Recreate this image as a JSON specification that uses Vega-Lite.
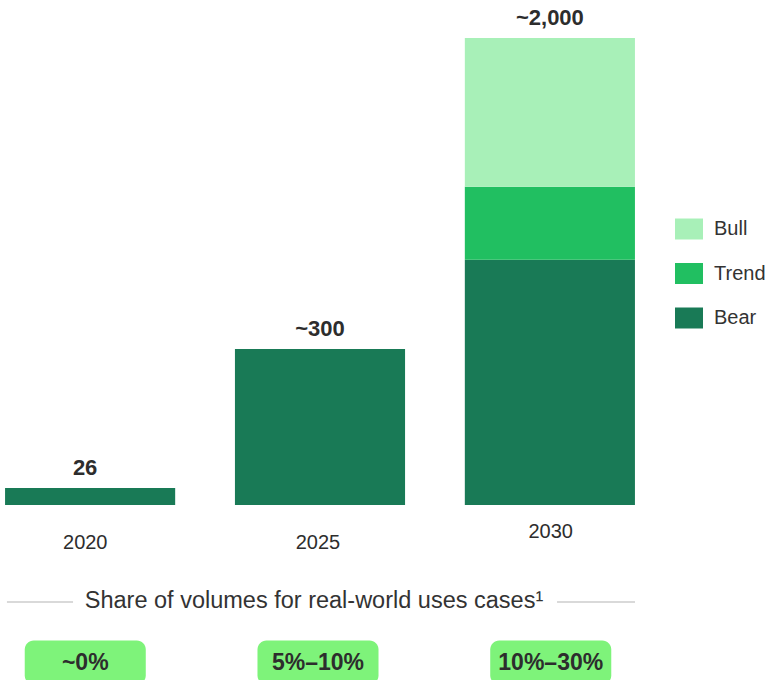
{
  "$schema": "https://vega.github.io/schema/vega-lite/v6.json",
  "padding": 0,
  "background": "white",
  "config": {
    "view": {"stroke": null},
    "concat": {"spacing": 0},
    "font": "Liberation Sans"
  },
  "datasets": {
    "bars": [
      {"year": "2020", "scenario": "Bear", "value": 73, "label": "26"},
      {"year": "2025", "scenario": "Bear", "value": 668, "label": "~300"},
      {"year": "2030", "scenario": "Bear", "value": 1050, "label": "~2,000"},
      {"year": "2030", "scenario": "Trend", "value": 313, "label": "~2,000"},
      {"year": "2030", "scenario": "Bull", "value": 637, "label": "~2,000"}
    ],
    "shares": [
      {"year": "2020", "share": "~0%"},
      {"year": "2025", "share": "5%–10%"},
      {"year": "2030", "share": "10%–30%"}
    ],
    "caption": [
      {"year": "2025", "text": "Share of volumes for real-world uses cases¹"}
    ]
  },
  "vconcat": [
    {
      "width": 640,
      "height": 505,
      "data": {"name": "bars"},
      "encoding": {
        "x": {
          "field": "year",
          "type": "nominal",
          "scale": {"domain": ["2020", "2025", "2030"], "paddingInner": 0.26, "paddingOuter": 0.022},
          "axis": null
        }
      },
      "layer": [
        {
          "transform": [{"calculate": "indexof(['Bear','Trend','Bull'], datum.scenario)", "as": "stackRank"}],
          "mark": {"type": "bar"},
          "encoding": {
            "y": {
              "field": "value",
              "type": "quantitative",
              "stack": "zero",
              "scale": {"domain": [0, 2163], "nice": false, "zero": true},
              "axis": null
            },
            "order": {"field": "stackRank", "type": "quantitative", "sort": "ascending"},
            "color": {
              "field": "scenario",
              "type": "nominal",
              "scale": {"domain": ["Bull", "Trend", "Bear"], "range": ["#a8f0b8", "#21bf61", "#197a56"]},
              "legend": {
                "title": null,
                "orient": "none",
                "legendX": 675,
                "legendY": 215,
                "padding": 0,
                "symbolType": "M-1,-0.75H1V0.75H-1Z",
                "symbolSize": 784,
                "symbolStrokeWidth": 0,
                "symbolOpacity": 1,
                "labelFontSize": 20,
                "labelFont": "Liberation Sans",
                "labelColor": "#333333",
                "labelOffset": 11,
                "rowPadding": 19.5
              }
            }
          }
        },
        {
          "transform": [{"filter": "datum.year != '2020'"}],
          "mark": {"type": "text", "baseline": "alphabetic", "dy": -13, "fontSize": 22, "fontWeight": "bold", "color": "#2d2d2d"},
          "encoding": {
            "y": {"aggregate": "sum", "field": "value", "type": "quantitative"},
            "text": {"field": "label", "type": "nominal"}
          }
        },
        {
          "transform": [{"filter": "datum.year == '2020'"}],
          "mark": {"type": "text", "baseline": "alphabetic", "dy": -13, "dx": -5, "fontSize": 22, "fontWeight": "bold", "color": "#2d2d2d"},
          "encoding": {
            "y": {"aggregate": "sum", "field": "value", "type": "quantitative"},
            "text": {"field": "label", "type": "nominal"}
          }
        }
      ]
    },
    {
      "width": 636,
      "height": 194,
      "data": {"name": "shares"},
      "encoding": {
        "x": {
          "field": "year",
          "type": "nominal",
          "scale": {"domain": ["2020", "2025", "2030"], "paddingInner": 0.48, "paddingOuter": 0.1063},
          "axis": null
        }
      },
      "layer": [
        {
          "transform": [{"filter": "datum.year != '2030'"}],
          "mark": {"type": "text", "fontSize": 20, "color": "#2d2d2d", "baseline": "middle", "dy": 1},
          "encoding": {
            "y": {
              "datum": "Year",
              "type": "nominal",
              "scale": {"domain": ["Year", "Share", "Pill"], "paddingInner": 0.273, "paddingOuter": 0.24},
              "axis": null
            },
            "text": {"field": "year", "type": "nominal"}
          }
        },
        {
          "transform": [{"filter": "datum.year == '2030'"}],
          "mark": {"type": "text", "fontSize": 20, "color": "#2d2d2d", "baseline": "middle", "dy": -10},
          "encoding": {
            "y": {"datum": "Year", "type": "nominal"},
            "text": {"field": "year", "type": "nominal"}
          }
        },
        {
          "data": {"name": "caption"},
          "mark": {"type": "rule", "color": "#d9d9d9", "strokeWidth": 2},
          "encoding": {
            "x": {"datum": "2020", "type": "nominal", "bandPosition": -0.147},
            "x2": {"datum": "2020", "bandPosition": 0.399},
            "y": {"datum": "Share", "type": "nominal", "bandPosition": 0.5}
          }
        },
        {
          "data": {"name": "caption"},
          "mark": {"type": "rule", "color": "#d9d9d9", "strokeWidth": 2},
          "encoding": {
            "x": {"datum": "2030", "type": "nominal", "bandPosition": 0.552},
            "x2": {"datum": "2030", "bandPosition": 1.196},
            "y": {"datum": "Share", "type": "nominal", "bandPosition": 0.5}
          }
        },
        {
          "data": {"name": "caption"},
          "mark": {"type": "text", "fontSize": 23.5, "color": "#333333", "baseline": "middle", "dx": -4, "dy": -1},
          "encoding": {
            "y": {"datum": "Share", "type": "nominal"},
            "text": {"field": "text", "type": "nominal"}
          }
        },
        {
          "mark": {"type": "bar", "cornerRadius": 9, "color": "#7ef37a"},
          "encoding": {
            "y": {"datum": "Pill", "type": "nominal"}
          }
        },
        {
          "mark": {"type": "text", "fontSize": 23, "fontWeight": "bold", "color": "#2d2d2d", "baseline": "middle", "dy": 1},
          "encoding": {
            "y": {"datum": "Pill", "type": "nominal"},
            "text": {"field": "share", "type": "nominal"}
          }
        }
      ]
    }
  ]
}
